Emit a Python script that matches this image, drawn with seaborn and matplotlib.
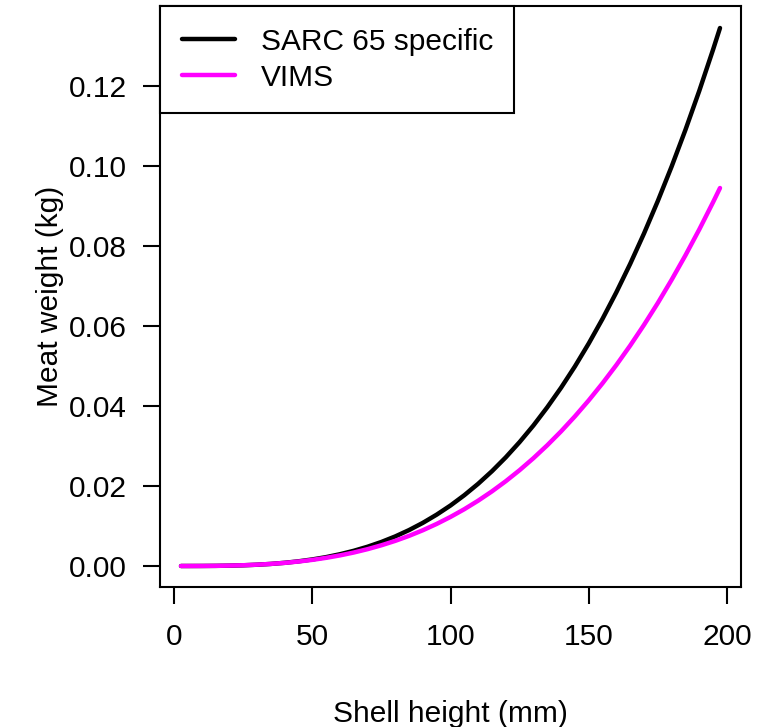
import numpy as np
import pandas as pd
import matplotlib
matplotlib.use("Agg")
import matplotlib.pyplot as plt
import seaborn as sns

# Data
shell_height = [2.5, 5, 10, 15, 20, 25, 30, 35, 40, 45, 50, 55, 60, 65, 70, 75,
                80, 85, 90, 95, 100, 105, 110, 115, 120, 125, 130, 135, 140,
                145, 150, 155, 160, 165, 170, 175, 180, 185, 190, 195, 197.5]
sarc65 = [0.0000001, 0.000001, 0.0000093, 0.000034, 0.000086, 0.000177,
          0.00032, 0.00052, 0.00080, 0.00117, 0.00164, 0.00222, 0.00294,
          0.00380, 0.00482, 0.00601, 0.00739, 0.00898, 0.01079, 0.01284,
          0.01513, 0.01770, 0.02055, 0.02370, 0.02717, 0.03098, 0.03513,
          0.03967, 0.04457, 0.04988, 0.05562, 0.06179, 0.06842, 0.07552,
          0.08312, 0.09124, 0.09987, 0.10904, 0.11878, 0.12911, 0.1345]
vims = [0.0000001, 0.0000015, 0.000012, 0.000041, 0.000098, 0.000192,
        0.00033, 0.000526, 0.00078, 0.00112, 0.00153, 0.00204, 0.00265,
        0.00337, 0.00421, 0.00518, 0.00628, 0.00753, 0.00894, 0.01052,
        0.01227, 0.01420, 0.01633, 0.01866, 0.02120, 0.02396, 0.02695,
        0.03018, 0.03366, 0.03740, 0.04140, 0.04568, 0.05024, 0.05510,
        0.06027, 0.06574, 0.07155, 0.07767, 0.08413, 0.09096, 0.0945]
series_names = ["SARC 65 specific", "VIMS"]
series_colors = ["#000000", "#FF00FF"]
x_ticks = [0, 50, 100, 150, 200]
y_ticks = [0.00, 0.02, 0.04, 0.06, 0.08, 0.10, 0.12]

df = pd.concat([
    pd.DataFrame({"Shell height (mm)": shell_height, "Meat weight (kg)": sarc65,
                  "series": series_names[0]}),
    pd.DataFrame({"Shell height (mm)": shell_height, "Meat weight (kg)": vims,
                  "series": series_names[1]}),
], ignore_index=True)

sns.set_style("white")
plt.rcParams["font.family"] = ["Liberation Sans", "DejaVu Sans"]
plt.rcParams["text.color"] = "black"
plt.rcParams["axes.labelcolor"] = "black"

FS = 21.5

fig = plt.figure(figsize=(7.64, 7.27), dpi=100)
ax = fig.add_axes([160 / 764, 1 - 587 / 727, 581 / 764, 581 / 727])

sns.lineplot(data=df, x="Shell height (mm)", y="Meat weight (kg)", hue="series",
             palette=dict(zip(series_names, series_colors)), linewidth=3.2,
             ax=ax, sort=False, solid_capstyle="round")

ax.set_xlim(-5.1, 205.1)
ax.set_ylim(-0.00525, 0.140)
ax.set_xticks(x_ticks)
ax.set_xticklabels([str(v) for v in x_ticks])
ax.set_yticks(y_ticks)
ax.set_yticklabels([f"{v:.2f}" for v in y_ticks])

for s in ax.spines.values():
    s.set_visible(True)
    s.set_color("black")
    s.set_linewidth(1.5)

ax.tick_params(axis="both", which="both", direction="out", length=12, width=1.5,
               color="black", labelsize=FS, labelcolor="black",
               bottom=True, left=True)
ax.tick_params(axis="x", pad=14)
ax.tick_params(axis="y", pad=12)

ax.set_xlabel("Shell height (mm)", fontsize=FS, labelpad=35, color="black")
ax.set_ylabel("Meat weight (kg)", fontsize=FS, labelpad=3, color="black")

leg = ax.legend(loc="upper left", borderaxespad=0, fontsize=FS, frameon=True,
                fancybox=False, edgecolor="black", framealpha=1,
                handlelength=1.8, handletextpad=0.85, borderpad=0.72,
                labelspacing=0.28, title=None)
leg.get_frame().set_linewidth(1.5)
for line in leg.get_lines():
    line.set_linewidth(3.2)
for t in leg.get_texts():
    t.set_color("black")

fig.savefig("out.png", dpi=100)
